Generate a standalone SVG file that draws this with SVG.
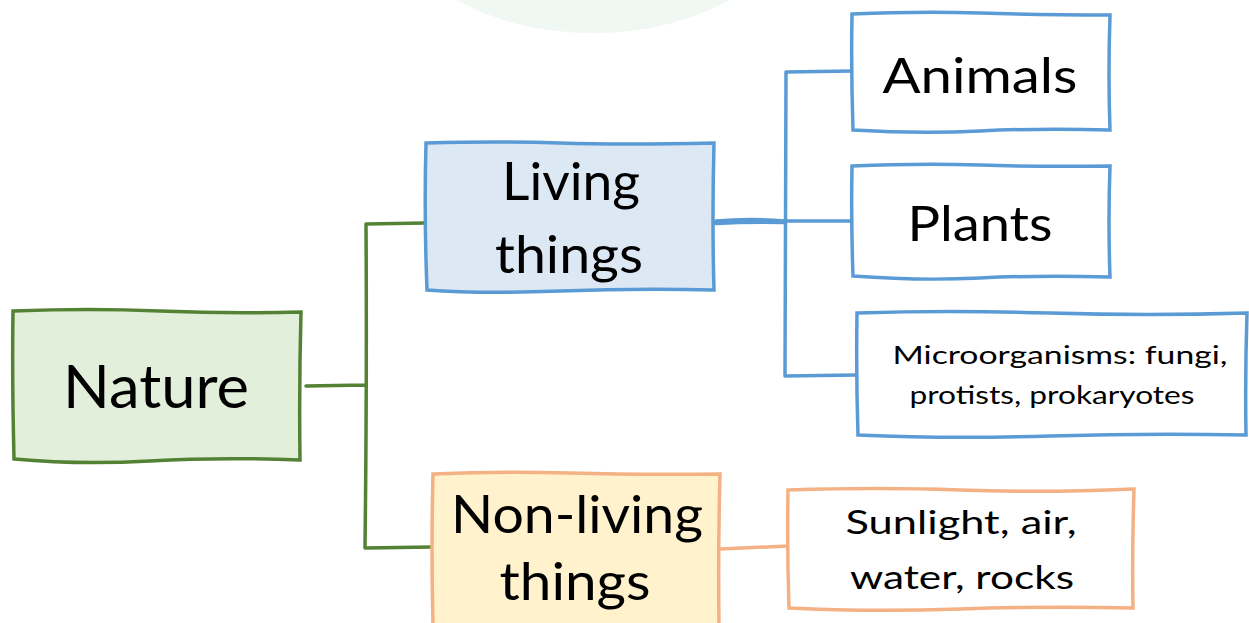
<svg xmlns="http://www.w3.org/2000/svg" width="1249" height="623" viewBox="0 0 1249 623">
<style>
.t{font-family:Lato,"Liberation Sans",sans-serif;fill:#000;text-anchor:middle}
.g{fill:none;stroke:#548235;stroke-width:3.5;stroke-linejoin:round;stroke-linecap:round}
.b{fill:none;stroke:#5b9bd5;stroke-width:3.5;stroke-linejoin:round;stroke-linecap:round}
.o{fill:none;stroke:#f4b183;stroke-width:3.5;stroke-linejoin:round;stroke-linecap:round}
.box{stroke-width:3.5}
</style>
<rect width="1249" height="623" fill="#ffffff"/>
<ellipse cx="593" cy="-90" rx="200" ry="123" fill="#eff8f3"/>
<g id="connectors">
<path class="g" d="M306,386 L366,385 M366,224 Q367,380 365,548 M366,224 L425,223 M365,548 L432,547"/>
<path class="b" d="M716,221 Q750,218 785,221 M785,221 L852,221 M786,72 L852,71 M786,72 Q785,220 785,376 L857,375"/>
<path class="b" d="M716,223 Q750,221 784,222" style="stroke-width:4.5"/>
<path class="o" d="M720,549 L788,546"/>
</g>
<g id="nature">
<path class="box" d="M13,311 Q90,308 160,311 T301,312 Q299,386 300,460 Q220,457 150,461 T14,459 Q12,380 13,311 Z" fill="#e2efda" stroke="#548235"/>
<text class="t" x="156" y="408" font-size="60" textLength="186" lengthAdjust="spacingAndGlyphs">Nature</text>
</g>
<g id="living">
<path class="box" d="M426,143 Q500,141 560,143 T714,143 Q712,220 714,290 Q640,288 560,291 T427,290 Q424,215 426,143 Z" fill="#dde8f5" stroke="#5b9bd5"/>
<text class="t" x="571" y="200" font-size="53" textLength="138" lengthAdjust="spacingAndGlyphs">Living</text>
<text class="t" x="569" y="273" font-size="53" textLength="148" lengthAdjust="spacingAndGlyphs">things</text>
</g>
<g id="animals">
<path class="box" d="M852,14 Q920,11 980,13 T1110,15 Q1108,75 1110,130 Q1040,128 980,131 T853,130 Q851,70 852,14 Z" fill="#ffffff" stroke="#5b9bd5"/>
<text class="t" x="980" y="93" font-size="49" textLength="195" lengthAdjust="spacingAndGlyphs">Animals</text>
</g>
<g id="plants">
<path class="box" d="M852,166 Q920,163 980,165 T1110,166 Q1108,220 1110,277 Q1040,275 980,278 T853,276 Q851,220 852,166 Z" fill="#ffffff" stroke="#5b9bd5"/>
<text class="t" x="980" y="241" font-size="49" textLength="145" lengthAdjust="spacingAndGlyphs">Plants</text>
</g>
<g id="micro">
<path class="box" d="M857,313 Q950,310 1050,313 T1247,313 Q1245,375 1246,435 Q1150,433 1050,436 T858,435 Q856,375 857,313 Z" fill="#ffffff" stroke="#5b9bd5"/>
<text class="t" x="1060" y="364" font-size="25" textLength="335" lengthAdjust="spacingAndGlyphs">Microorganisms: fungi,</text>
<text class="t" x="1052" y="404" font-size="25" textLength="285" lengthAdjust="spacingAndGlyphs">protists, prokaryotes</text>
</g>
<g id="nonliving">
<path class="box" d="M433,474 Q500,471 570,473 T720,474 Q718,550 719,625 L433,625 Q431,550 433,474 Z" fill="#fff2cc" stroke="#f4b183"/>
<text class="t" x="577" y="533" font-size="53" textLength="252" lengthAdjust="spacingAndGlyphs">Non-living</text>
<text class="t" x="575" y="600" font-size="53" textLength="151" lengthAdjust="spacingAndGlyphs">things</text>
</g>
<g id="sunlight">
<path class="box" d="M788,490 Q880,487 960,490 T1134,489 Q1132,550 1133,608 Q1050,606 960,609 T789,608 Q787,550 788,490 Z" fill="#ffffff" stroke="#f4b183"/>
<text class="t" x="961" y="534" font-size="33" textLength="231" lengthAdjust="spacingAndGlyphs">Sunlight, air,</text>
<text class="t" x="962" y="589" font-size="33" textLength="224" lengthAdjust="spacingAndGlyphs">water, rocks</text>
</g>
</svg>
